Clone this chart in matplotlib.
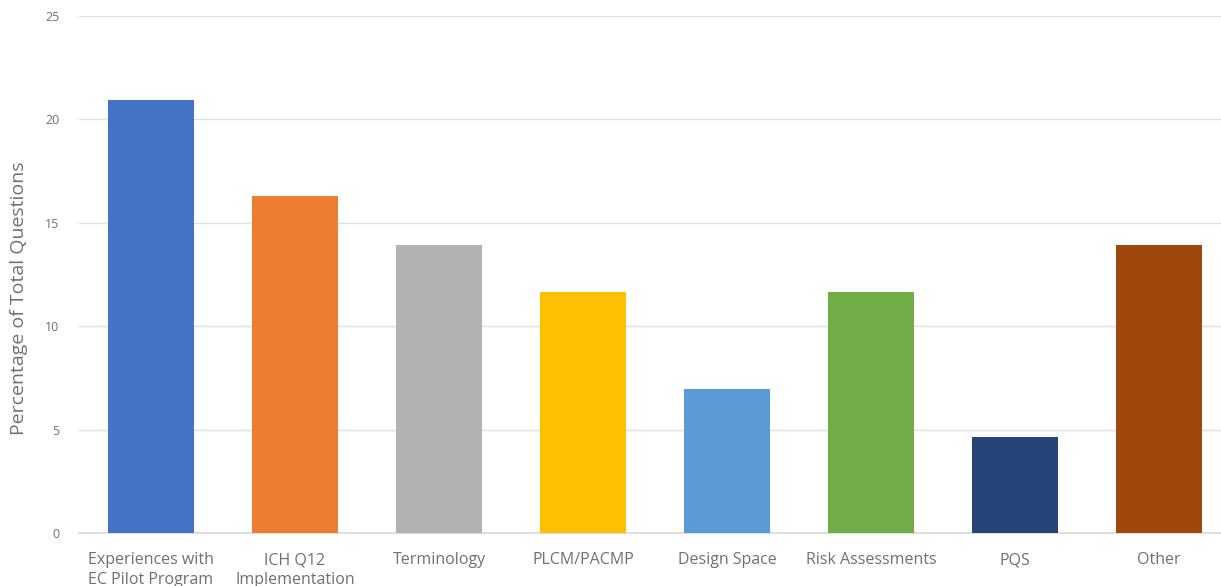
import matplotlib.pyplot as plt

categories = [
    "Experiences with\nEC Pilot Program",
    "ICH Q12\nImplementation",
    "Terminology",
    "PLCM/PACMP",
    "Design Space",
    "Risk Assessments",
    "PQS",
    "Other",
]
percent = [20.93, 16.28, 13.95, 11.63, 6.98, 11.63, 4.65, 13.95]
colors = ["#4472C4", "#ED7D31", "#B1B2B4", "#FFC000", "#5B9BD5",
          "#70AD47", "#264478", "#9E480E"]
yticks = [0, 5, 10, 15, 20, 25]

plt.rcParams["font.family"] = ["Open Sans", "DejaVu Sans"]

fig = plt.figure(figsize=(12.21, 5.86), dpi=100)
ax = fig.add_axes([79 / 1221, 53 / 586, 1142 / 1221, 517 / 586])

x = list(range(len(categories)))
ax.bar(x, percent, width=0.6, color=colors, zorder=3)

ax.set_xlim(-0.5, 1142 / 144 - 0.5)
ax.set_ylim(0, 25)
ax.set_yticks(yticks)
ax.set_xticks(x)
ax.set_xticklabels(categories, fontsize=11.5, color="#707070", linespacing=1.3)
ax.tick_params(axis="y", labelsize=9, colors="#707070", length=0, pad=14)
ax.tick_params(axis="x", length=0, pad=14)
ax.grid(axis="y", color="#E0E0E0", linewidth=1, zorder=0)
for s in ["top", "right", "left"]:
    ax.spines[s].set_visible(False)
ax.spines["bottom"].set_color("#D9D9D9")
ax.spines["bottom"].set_linewidth(1.2)

ax.set_ylabel("Percentage of Total Questions", fontsize=14, color="#707070")
ax.yaxis.set_label_coords(-0.045, 0.455)

fig.savefig("out.png", dpi=100)
